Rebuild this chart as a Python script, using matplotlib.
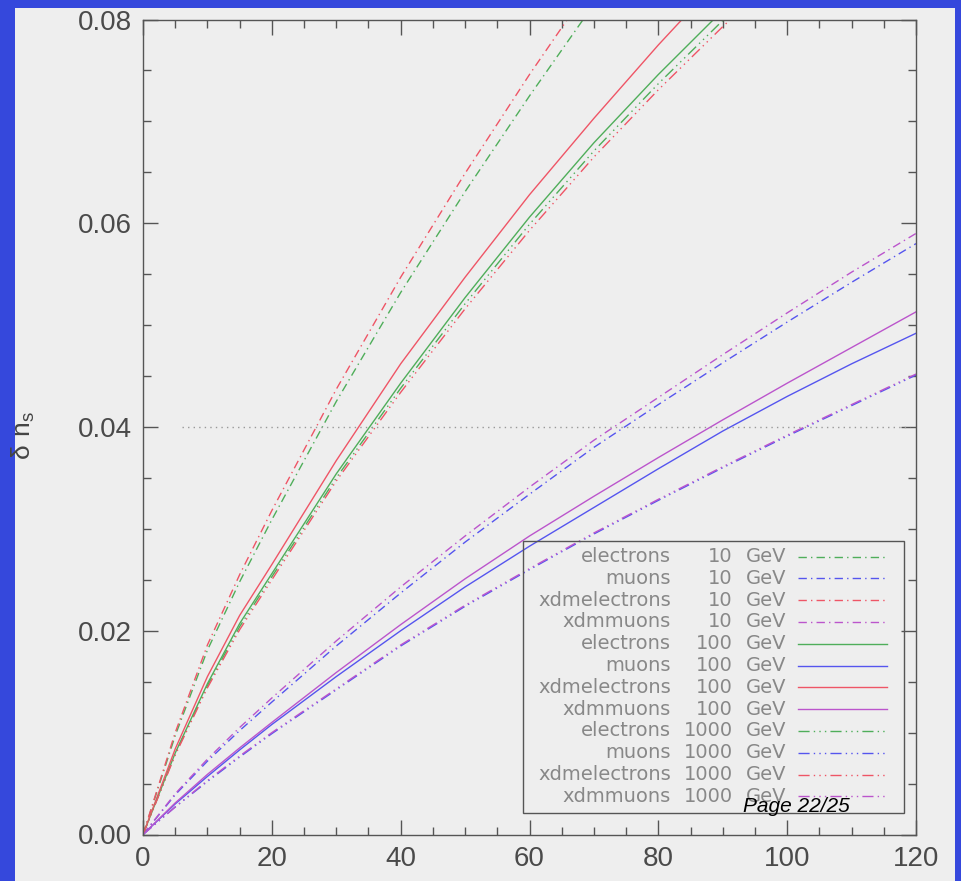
import matplotlib.pyplot as plt
from matplotlib.patches import Rectangle
from matplotlib.lines import Line2D

W, H = 962, 881

# common x grid (at these abscissae)
x = [0, 5, 10, 15, 20, 30, 40, 50, 60, 70, 80, 90, 100, 110, 120]

# electron-like (steep) curves, go off the top at 0.08
electrons_10 = [0, 0.0097, 0.0181, 0.0248, 0.0309, 0.0425, 0.0532, 0.0631, 0.0725, 0.0815]
xdmelectrons_10 = [0, 0.0100, 0.0186, 0.0255, 0.0318, 0.0437, 0.0547, 0.0649, 0.0746, 0.0838]
electrons_100 = [0, 0.0080, 0.0148, 0.0207, 0.0256, 0.0354, 0.0443, 0.0527, 0.0606, 0.0679, 0.0746, 0.0809]
xdmelectrons_100 = [0, 0.0084, 0.0155, 0.0215, 0.0265, 0.0367, 0.0462, 0.0547, 0.0628, 0.0703, 0.0775, 0.0843]
electrons_1000 = [0, 0.0079, 0.0146, 0.0204, 0.0253, 0.0350, 0.0438, 0.0521, 0.0599, 0.0671, 0.0737, 0.0799, 0.0858]
xdmelectrons_1000 = [0, 0.0078, 0.0144, 0.0201, 0.0250, 0.0347, 0.0434, 0.0516, 0.0593, 0.0665, 0.0731, 0.0793, 0.0852]

# muon-like curves, full range
muons_10 = [0, 0.0039, 0.0072, 0.0102, 0.0130, 0.0185, 0.0237, 0.0287, 0.0334, 0.0380, 0.0422, 0.0463, 0.0503, 0.0542, 0.0580]
xdmmuons_10 = [0, 0.0040, 0.0074, 0.0105, 0.0134, 0.0190, 0.0243, 0.0293, 0.0341, 0.0387, 0.0429, 0.0471, 0.0512, 0.0552, 0.0590]
muons_100 = [0, 0.0030, 0.0057, 0.0083, 0.0108, 0.0155, 0.0200, 0.0243, 0.0283, 0.0321, 0.0359, 0.0396, 0.0430, 0.0462, 0.0492]
xdmmuons_100 = [0, 0.0031, 0.0059, 0.0085, 0.0110, 0.0159, 0.0206, 0.0251, 0.0293, 0.0332, 0.0370, 0.0407, 0.0443, 0.0478, 0.0513]
muons_1000 = [0, 0.0027, 0.0052, 0.0076, 0.0099, 0.0142, 0.0185, 0.0224, 0.0260, 0.0295, 0.0328, 0.0360, 0.0391, 0.0421, 0.0451]
xdmmuons_1000 = [0, 0.0027, 0.0053, 0.0077, 0.0100, 0.0143, 0.0186, 0.0225, 0.0261, 0.0296, 0.0329, 0.0361, 0.0392, 0.0422, 0.0452]

names = ['electrons', 'muons', 'xdmelectrons', 'xdmmuons'] * 3
energies = [10] * 4 + [100] * 4 + [1000] * 4
series = [electrons_10, muons_10, xdmelectrons_10, xdmmuons_10,
          electrons_100, muons_100, xdmelectrons_100, xdmmuons_100,
          electrons_1000, muons_1000, xdmelectrons_1000, xdmmuons_1000]

green, blue, red, magenta = '#4fae5a', '#5555ee', '#ee5566', '#bb55cc'
colors = [green, blue, red, magenta] * 3
dashdot = (0, (6, 3, 1, 3))
dash3dot = (0, (8, 3, 1, 3, 1, 3, 1, 3))
styles = [dashdot] * 4 + ['-'] * 4 + [dash3dot] * 4

fig = plt.figure(figsize=(W / 100, H / 100), dpi=100)
fig.patch.set_facecolor('#3548dc')
# light slide panel
fig.add_artist(Rectangle((15 / W, 0), 940 / W, (H - 8) / H, transform=fig.transFigure,
                         facecolor='#eeeeee', edgecolor='none', zorder=-10))

ax = fig.add_axes([143 / W, (H - 834.5) / H, (916 - 143) / W, (834.5 - 19.5) / H])
ax.patch.set_alpha(0)

for ys, c, ls in zip(series, colors, styles):
    ax.plot(x[:len(ys)], ys, color=c, linestyle=ls, lw=1.0)

ax.plot([6, 119], [0.04, 0.04], color='#999999', linestyle=(0, (1, 3)), lw=1.0)

ax.set_xlim(0, 120)
ax.set_ylim(0, 0.08)
ax.set_xticks(range(0, 121, 20))
ax.set_xticks(range(0, 121, 5), minor=True)
ax.set_yticks([0, 0.02, 0.04, 0.06, 0.08])
ax.set_yticks([i * 0.005 for i in range(17)], minor=True)
ax.set_yticklabels(['0.00', '0.02', '0.04', '0.06', '0.08'])
ax.tick_params(which='both', direction='in', top=True, right=True, color='#555555', width=1.0,
               labelcolor='#4a4a4a', labelsize=20, pad=8)
ax.tick_params(which='major', length=11)
ax.tick_params(which='minor', length=6)
for lab in ax.get_xticklabels() + ax.get_yticklabels():
    lab.set_family('Liberation Sans')
for s in ax.spines.values():
    s.set_color('#555555')
    s.set_linewidth(1.0)

ax.set_ylabel(r'$\mathregular{\delta\ n_s}$', fontsize=19, color='#444444', family='Liberation Sans')
ax.yaxis.set_label_coords(-0.137, 0.49)


def fx(px):
    return px / W


def fy(py):
    return (H - py) / H


# legend box drawn by hand (IDL style)
fig.add_artist(Rectangle((fx(522.7), fy(812.7)), fx(904) - fx(522.7), fy(541) - fy(812.7),
                         transform=fig.transFigure, facecolor='none', edgecolor='#555555', lw=1.0))
for i, (nm, e, c, ls) in enumerate(zip(names, energies, colors, styles)):
    row = 556.5 + i * 21.8
    fig.text(fx(671), fy(row), nm, ha='right', va='center', fontsize=14, color='#888888')
    fig.text(fx(733), fy(row), str(e), ha='right', va='center', fontsize=14, color='#888888')
    fig.text(fx(746), fy(row), 'GeV', ha='left', va='center', fontsize=14, color='#888888')
    fig.add_artist(Line2D([fx(798), fx(887)], [fy(row), fy(row)], transform=fig.transFigure,
                          color=c, linestyle=ls, lw=1.0))

fig.text(fx(743), fy(806), 'Page 22/25', ha='left', va='center', fontsize=15,
         family='Liberation Sans', style='italic', color='black')

fig.savefig('out.png', dpi=100, facecolor=fig.get_facecolor())
